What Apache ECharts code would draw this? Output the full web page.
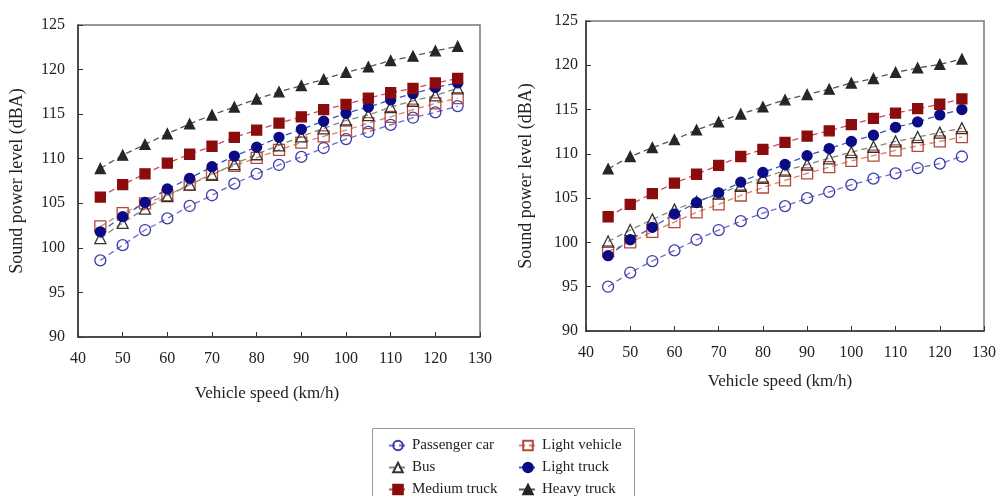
<!DOCTYPE html>
<html>
<head>
<meta charset="utf-8">
<title>Sound power level vs vehicle speed</title>
<script src="https://cdn.jsdelivr.net/npm/echarts@6/dist/echarts.min.js"></script>
<style>
  html, body { margin: 0; padding: 0; background: #fff; }
  #chart { width: 999px; height: 496px; }
</style>
</head>
<body>
<div id="chart"></div>
<script>
// vehicle speeds (km/h)
const speeds = [45, 50, 55, 60, 65, 70, 75, 80, 85, 90, 95, 100, 105, 110, 115, 120, 125]
const xTicks = [40, 130, 10]
const yTicks = [90, 125, 5]

// left panel, sound power level (dBA)
const leftPassengerCar = [98.6, 100.3, 102.0, 103.3, 104.7, 105.9, 107.2, 108.3, 109.3, 110.2, 111.2, 112.2, 113.0, 113.8, 114.6, 115.2, 115.9]
const leftLightVehicle = [102.4, 103.9, 105.0, 105.9, 107.1, 108.3, 109.2, 110.1, 111.0, 111.8, 112.5, 113.2, 114.0, 114.7, 115.5, 116.2, 116.8]
const leftBus = [101.1, 102.8, 104.4, 105.8, 107.1, 108.2, 109.4, 110.5, 111.5, 112.5, 113.4, 114.3, 114.9, 115.8, 116.5, 117.1, 117.9]
const leftLightTruck = [101.8, 103.5, 105.1, 106.6, 107.8, 109.1, 110.3, 111.3, 112.4, 113.3, 114.2, 115.1, 115.8, 116.6, 117.3, 118.0, 118.5]
const leftMediumTruck = [105.7, 107.1, 108.3, 109.5, 110.5, 111.4, 112.4, 113.2, 114.0, 114.7, 115.5, 116.1, 116.8, 117.4, 117.9, 118.5, 119.0]
const leftHeavyTruck = [108.9, 110.4, 111.6, 112.8, 113.9, 114.9, 115.8, 116.7, 117.5, 118.2, 118.9, 119.7, 120.3, 121.0, 121.5, 122.1, 122.6]

// right panel, sound power level (dBA)
const rightPassengerCar = [95.0, 96.6, 97.9, 99.1, 100.3, 101.4, 102.4, 103.3, 104.1, 105.0, 105.7, 106.5, 107.2, 107.8, 108.4, 108.9, 109.7]
const rightLightVehicle = [99.0, 100.0, 101.2, 102.3, 103.4, 104.3, 105.3, 106.2, 107.0, 107.8, 108.5, 109.2, 109.8, 110.4, 110.9, 111.4, 111.9]
const rightBus = [100.1, 101.4, 102.6, 103.7, 104.6, 105.5, 106.4, 107.3, 108.1, 108.8, 109.5, 110.2, 110.8, 111.4, 111.9, 112.4, 112.9]
const rightLightTruck = [98.5, 100.3, 101.7, 103.2, 104.5, 105.6, 106.8, 107.9, 108.8, 109.8, 110.6, 111.4, 112.1, 113.0, 113.6, 114.4, 115.0]
const rightMediumTruck = [102.9, 104.3, 105.5, 106.7, 107.7, 108.7, 109.7, 110.5, 111.3, 112.0, 112.6, 113.3, 114.0, 114.6, 115.1, 115.6, 116.2]
const rightHeavyTruck = [108.3, 109.7, 110.7, 111.6, 112.7, 113.6, 114.5, 115.3, 116.1, 116.7, 117.3, 118.0, 118.5, 119.2, 119.7, 120.1, 120.7]

const FONT = '"Liberation Serif", "Times New Roman", serif'
const TEXT = '#222'

// marker / line look per vehicle type
const styles = {
  'Passenger car': { symbol: 'circle', size: 11, fill: 'rgba(255,255,255,0)', border: '#3c3ca8', line: '#6c6cc8' },
  'Light vehicle': { symbol: 'rect', size: 11, fill: 'rgba(255,255,255,0)', border: '#b5483a', line: '#d9826f' },
  'Bus': { symbol: 'triangle', size: 11, fill: 'rgba(255,255,255,0)', border: '#333333', line: '#7d8b6c' },
  'Light truck': { symbol: 'circle', size: 10, fill: '#0b0b85', border: '#0b0b85', line: '#3a55c0' },
  'Medium truck': { symbol: 'rect', size: 10, fill: '#8b0c0c', border: '#8b0c0c', line: '#c24a68' },
  'Heavy truck': { symbol: 'triangle', size: 10, fill: '#262626', border: '#262626', line: '#555555' }
}

const panels = [
  {
    'Passenger car': leftPassengerCar,
    'Light vehicle': leftLightVehicle,
    'Bus': leftBus,
    'Light truck': leftLightTruck,
    'Medium truck': leftMediumTruck,
    'Heavy truck': leftHeavyTruck
  },
  {
    'Passenger car': rightPassengerCar,
    'Light vehicle': rightLightVehicle,
    'Bus': rightBus,
    'Light truck': rightLightTruck,
    'Medium truck': rightMediumTruck,
    'Heavy truck': rightHeavyTruck
  }
]

function makeSeries(name, values, idx) {
  const s = styles[name]
  return {
    name: name,
    type: 'line',
    xAxisIndex: idx,
    yAxisIndex: idx,
    data: speeds.map((v, i) => [v, values[i]]),
    symbol: s.symbol,
    symbolSize: s.size,
    itemStyle: { color: s.fill, borderColor: s.border, borderWidth: 1.3 },
    lineStyle: { color: s.line, width: 1.3, type: [6, 4] },
    emphasis: { disabled: true },
    silent: true
  }
}

function xAxis(idx, gap, shift) {
  return {
    type: 'value',
    gridIndex: idx,
    min: xTicks[0],
    max: xTicks[1],
    interval: xTicks[2],
    name: 'Vehicle speed (km/h)',
    nameLocation: 'middle',
    nameGap: gap,
    nameTextStyle: { fontFamily: FONT, fontSize: 17, color: TEXT, padding: [0, shift, 0, 0] },
    axisLine: { lineStyle: { color: '#333', width: 1.5 } },
    axisTick: { inside: true, length: 5, lineStyle: { color: '#333' } },
    axisLabel: { fontFamily: FONT, fontSize: 16, color: TEXT, margin: 14 },
    splitLine: { show: false }
  }
}

function yAxis(idx, margin, gap) {
  return {
    type: 'value',
    gridIndex: idx,
    min: yTicks[0],
    max: yTicks[1],
    interval: yTicks[2],
    name: 'Sound power level (dBA)',
    nameLocation: 'middle',
    nameGap: gap,
    nameTextStyle: { fontFamily: FONT, fontSize: 18, color: TEXT },
    axisLine: { show: true, lineStyle: { color: '#333', width: 1.5 } },
    axisTick: { show: true, inside: true, length: 5, lineStyle: { color: '#333' } },
    axisLabel: { fontFamily: FONT, fontSize: 16, color: TEXT, margin: margin },
    splitLine: { show: false }
  }
}

const names = Object.keys(styles)
const series = []
panels.forEach((panel, idx) => {
  names.forEach(n => series.push(makeSeries(n, panel[n], idx)))
})

const legendBase = {
  orient: 'vertical',
  top: 433,
  height: 90,
  itemWidth: 18,
  itemHeight: 12,
  itemGap: 7,
  textStyle: { fontFamily: FONT, fontSize: 15, color: TEXT },
  selectedMode: false
}

const chart = echarts.init(document.getElementById('chart'))
chart.setOption({
  animation: false,
  backgroundColor: '#fff',
  grid: [
    { left: 78, top: 25, width: 402, height: 312, show: true, borderColor: '#777', borderWidth: 1.5, backgroundColor: 'transparent' },
    { left: 586, top: 21, width: 401, height: 310, show: true, borderColor: '#777', borderWidth: 1.5, backgroundColor: 'transparent' }
  ],
  xAxis: [xAxis(0, 48, 24), xAxis(1, 42, 10)],
  yAxis: [yAxis(0, 13, 52), yAxis(1, 8, 51)],
  legend: [
    Object.assign({}, legendBase, { left: 383, data: ['Passenger car', 'Bus', 'Medium truck'] }),
    Object.assign({}, legendBase, { left: 513, data: ['Light vehicle', 'Light truck', 'Heavy truck'] })
  ],
  graphic: [
    {
      type: 'rect',
      left: 370,
      top: 426,
      shape: { width: 262, height: 80 },
      style: { fill: 'none', stroke: '#999', lineWidth: 1 },
      silent: true
    }
  ],
  series: series
})
</script>
</body>
</html>
